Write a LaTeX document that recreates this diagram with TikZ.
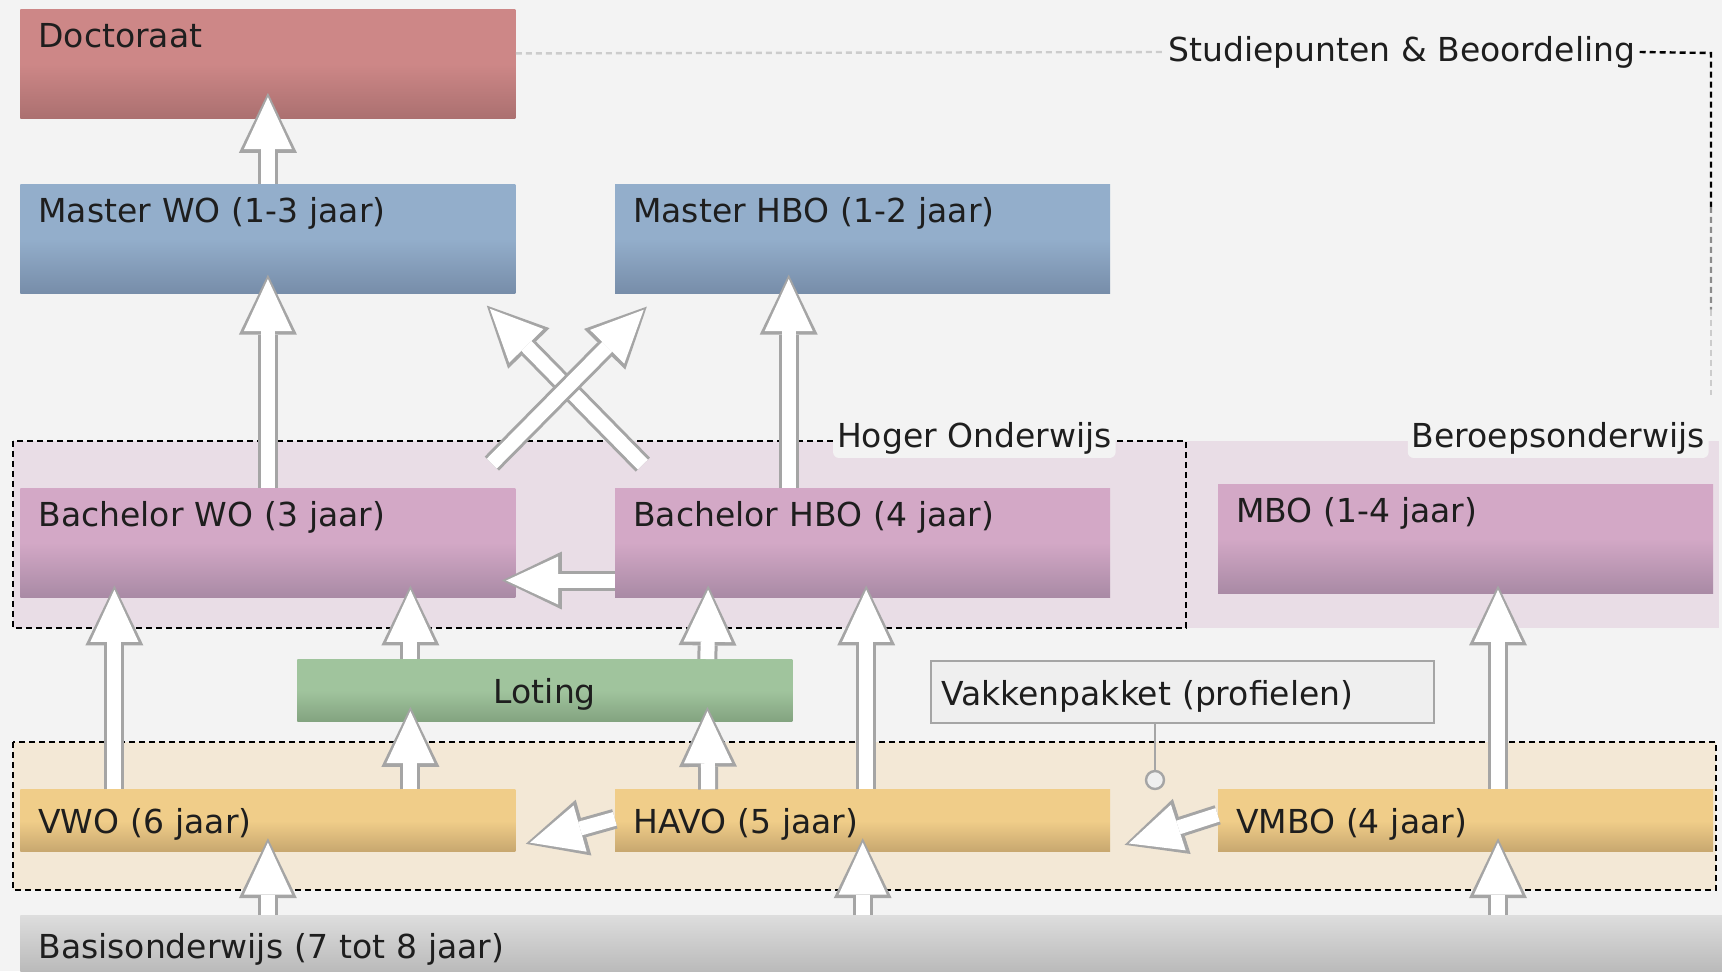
\documentclass[tikz,border=0pt]{standalone}
\usepackage{fontspec}
\setmainfont{DejaVu Sans}
\usetikzlibrary{arrows.meta,positioning,calc}

\definecolor{achter}{HTML}{F3F3F3}
\definecolor{ink}{HTML}{1E1E1E}
\definecolor{doctA}{HTML}{CD8787}
\definecolor{doctB}{HTML}{AB7070}
\definecolor{mastA}{HTML}{93AECB}
\definecolor{mastB}{HTML}{778DA9}
\definecolor{bachA}{HTML}{D3A8C6}
\definecolor{bachB}{HTML}{A98AA5}
\definecolor{lotA}{HTML}{A0C49D}
\definecolor{lotB}{HTML}{83A380}
\definecolor{voA}{HTML}{F0CD89}
\definecolor{voB}{HTML}{C7A76F}
\definecolor{basA}{HTML}{DDDDDD}
\definecolor{basB}{HTML}{B6B6B6}
\definecolor{hoband}{HTML}{E9DDE6}
\definecolor{voband}{HTML}{F3E8D6}
\definecolor{rim}{HTML}{A5A5A5}
\definecolor{vakfill}{HTML}{EFEFEF}

\begin{document}
\begin{tikzpicture}[
  x=0.5pt, y=-0.5pt,
  font=\fontsize{16.5}{20}\selectfont,
  box/.style={text width=229.5pt, align=left, inner xsep=9pt, inner ysep=0pt, text=ink},
  tall/.style={text height=19pt, text depth=35.5pt},
  low/.style={text height=22pt, text depth=9pt},
  rood/.style={top color=doctA, bottom color=doctB, middle color=doctA},
  blauw/.style={top color=mastA, bottom color=mastB, middle color=mastA},
  paars/.style={top color=bachA, bottom color=bachB, middle color=bachA},
  groen/.style={top color=lotA, bottom color=lotB, middle color=lotA},
  geel/.style={top color=voA, bottom color=voB, middle color=voA},
  grijs/.style={top color=basA, bottom color=basB},
  grp/.style={draw=black, line width=1.2pt, dash pattern=on 3pt off 2pt},
  tag/.style={fill=achter, rounded corners=3pt, inner sep=2pt, text=ink},
  flow/.style={
    preaction={draw=rim, line width=10pt, shorten >=0pt,
      -{Triangle[length=30pt, width=29pt, line width=0pt]}},
    draw=white, line width=7pt, shorten >=2.2pt,
    -{Triangle[length=26pt, width=24pt, line width=0pt]}},
  callout/.style={draw=rim, line width=1.2pt}
]
\fill[achter] (0,0) rectangle (1722,971);
\useasboundingbox (0,0) rectangle (1722,971);

% Bands
\fill[hoband] (1186,441) rectangle (1719,628);
\draw[grp, fill=hoband] (13,441) rectangle (1186,628);
\draw[grp, fill=voband] (13,742) rectangle (1716,890);

% Main boxes
\node[box, tall, rood, anchor=north west] (doct) at (20,9) {Doctoraat};
\node[box, tall, blauw, below=32.5pt of doct] (mwo) {Master WO (1-3 jaar)};
\node[box, tall, blauw, right=49.5pt of mwo] (mhbo) {Master HBO (1-2 jaar)};
\node[box, tall, paars, below=97pt of mwo] (bwo) {Bachelor WO (3 jaar)};
\node[box, tall, paars, right=49.5pt of bwo] (bhbo) {Bachelor HBO (4 jaar)};
\node[box, tall, paars, right=53.5pt of bhbo, yshift=2pt] (mbo) {MBO (1-4 jaar)};

\node[box, low, groen, align=center, anchor=north west] (lot) at (297,659) {Loting};
\node[box, low, fill=vakfill, draw=rim, line width=1.2pt, text width=241.5pt,
  inner xsep=5pt, anchor=north west] (vak) at (930,660) {Vakkenpakket (profielen)};

\node[box, low, geel, below=96pt of bwo] (vwo) {VWO (6 jaar)};
\node[box, low, geel, right=49.5pt of vwo] (havo) {HAVO (5 jaar)};
\node[box, low, geel, right=53.5pt of havo] (vmbo) {VMBO (4 jaar)};

\node[box, grijs, text width=837pt, text height=21.3pt, text depth=10pt,
  anchor=north west] (bas) at (20,915) {Basisonderwijs (7 tot 8 jaar)};

% Labels
\node[tag, anchor=east] (ho) at (1116,438) {Hoger Onderwijs};
\node[tag, anchor=east] (bo) at (1709,438) {Beroepsonderwijs};
\node[tag] (stud) at (1402,52) {Studiepunten \& Beoordeling};

\coordinate (hoek) at (1711,53);
\coordinate (eind) at (1711,395);
\draw[grp, draw=black!20] ($(doct.east)+(0,5.25pt)$) -- (stud.west);
\draw[grp] (stud.east) -- (hoek) -- ($(hoek)!0.45!(eind)$);
\draw[grp, draw=black!45] ($(hoek)!0.45!(eind)$) -- ($(hoek)!0.75!(eind)$);
\draw[grp, draw=black!20] ($(hoek)!0.75!(eind)$) -- (eind);

% Vakkenpakket pin
\node[circle, draw=rim, fill=vakfill, line width=1.2pt, inner sep=0pt,
  minimum size=9pt] (pin) at (1155,780) {};
\draw[callout] (vak.south -| pin) -- (pin.north);

% Upward flow
\draw[flow] (mwo.north) -- ($(doct.south)+(0,13pt)$);
\draw[flow] (bwo.north) -- ($(mwo.south)+(0,9.5pt)$);
\draw[flow] ($(bhbo.north)+(-37pt,0)$) -- ($(mhbo.south)+(-37pt,9.5pt)$);
\draw[flow] ($(bhbo.north west)+(14pt,11.5pt)$) -- ($(mwo.south east)+(-14.5pt,-6pt)$);
\draw[flow] ($(bwo.north east)+(-12pt,12pt)$) -- ($(mhbo.south west)+(16pt,-6.5pt)$);
\draw[flow] ($(bhbo.west)+(0,-19pt)$) -- ($(bwo.east)+(-7pt,-19pt)$);

\draw[flow] ($(vwo.north)+(-76.75pt,0)$) -- ($(bwo.south)+(-76.75pt,6pt)$);
\draw[flow] ($(lot.north)+(-67.25pt,0)$) -- ($(bwo.south)+(71.25pt,6pt)$);
\draw[flow] ($(lot.north)+(81.25pt,0)$) -- ($(bhbo.south)+(-77.25pt,6pt)$);
\draw[flow] ($(havo.north)+(1.75pt,0)$) -- ($(bhbo.south)+(1.75pt,6pt)$);
\draw[flow] ($(vmbo.north)+(16.25pt,0)$) -- ($(mbo.south)+(16.25pt,4pt)$);

\draw[flow] ($(vwo.north)+(71.25pt,0)$) -- ($(lot.south)+(-67.25pt,7.5pt)$);
\draw[flow] ($(havo.north)+(-77.25pt,0)$) -- ($(lot.south)+(81.25pt,7.5pt)$);
\draw[flow] ($(havo.west)+(0,1pt)$) -- ($(vwo.east)+(5pt,-11.5pt)$);
\draw[flow] ($(vmbo.west)+(0,3pt)$) -- ($(havo.east)+(7pt,-12pt)$);

\draw[flow] (vwo.south |- bas.north) -- ($(vwo.south)+(0,7pt)$);
\draw[flow] (havo.south |- bas.north) -- ($(havo.south)+(0,7pt)$);
\draw[flow] ($(vmbo.south |- bas.north)+(16.25pt,0)$) -- ($(vmbo.south)+(16.25pt,7pt)$);

\end{tikzpicture}
\end{document}
